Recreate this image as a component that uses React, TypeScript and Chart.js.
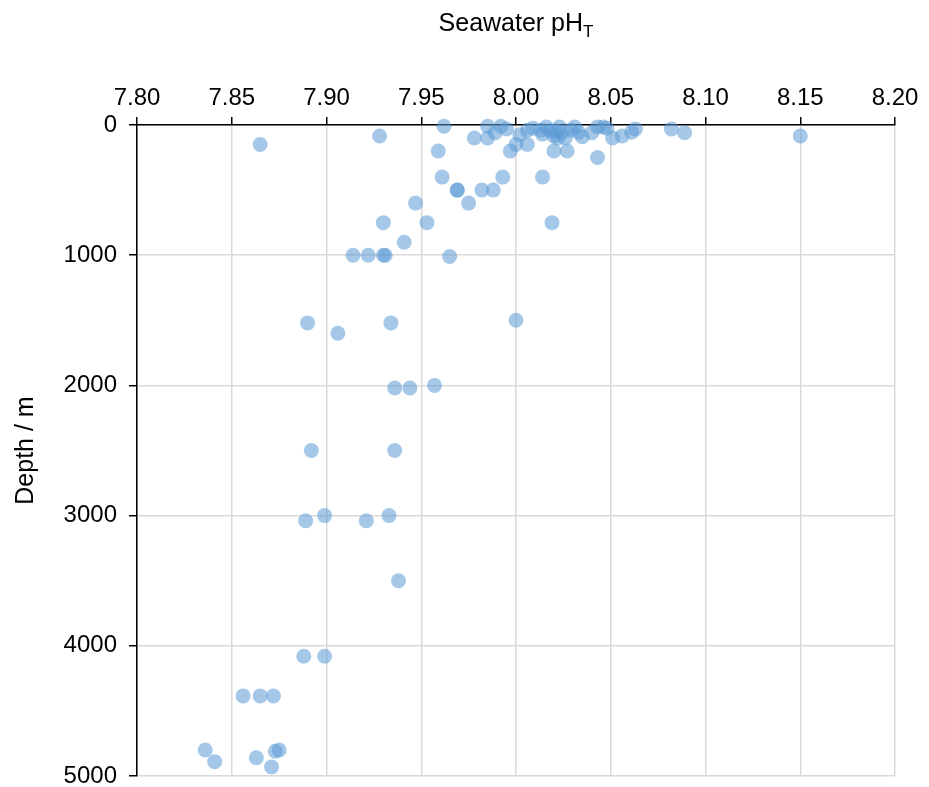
import React, { useEffect, useRef } from "react";
import { Chart, registerables } from "chart.js";

Chart.register(...registerables);

// Seawater pH (total scale) samples and their depths in metres
const phValues: number[] = [
  7.962, 7.985, 7.992, 7.995, 7.978, 7.985, 7.989, 7.959, 8.002, 8.0,
  7.997, 8.006, 8.006, 8.009, 8.013, 8.014, 8.016, 8.018, 8.02, 8.021,
  8.023, 8.024, 8.02, 8.027, 8.022, 8.026, 8.029, 8.031, 8.035, 8.033,
  8.04, 8.043, 8.046, 8.048, 8.051, 8.056, 8.061, 8.063, 8.043, 8.082,
  8.089, 8.15, 7.865, 7.928, 7.961, 7.969, 7.969, 7.975, 7.982, 7.988,
  7.993, 8.014, 8.019, 7.947, 7.953, 7.93, 7.941, 7.914, 7.922, 7.93,
  7.931, 7.965, 7.89, 7.906, 7.934, 8.0, 7.936, 7.944, 7.957, 7.892,
  7.936, 7.899, 7.933, 7.889, 7.921, 7.938, 7.888, 7.899, 7.856, 7.865,
  7.872, 7.836, 7.841, 7.863, 7.873, 7.875, 7.871,
];

const depthValues: number[] = [
  10, 10, 10, 30, 100, 100, 60, 200, 75, 150,
  200, 150, 40, 25, 40, 70, 15, 45, 85, 45,
  15, 60, 200, 200, 100, 100, 40, 15, 90, 55,
  60, 15, 15, 25, 100, 85, 55, 30, 250, 30,
  60, 85, 150, 85, 400, 500, 500, 600, 500, 500,
  400, 400, 750, 600, 750, 750, 900, 1000, 1000, 1000,
  1000, 1010, 1520, 1600, 1520, 1500, 2020, 2020, 2000, 2500,
  2500, 3000, 3000, 3040, 3040, 3500, 4080, 4080, 4385, 4385,
  4385, 4800, 4890, 4860, 4810, 4800, 4930,
];

const xTickValues: number[] = [7.8, 7.85, 7.9, 7.95, 8.0, 8.05, 8.1, 8.15, 8.2];
const yTickValues: number[] = [0, 1000, 2000, 3000, 4000, 5000];

const FONT = '"Liberation Sans", Arial, sans-serif';

// Axis titles: "Seawater pH" with subscript T on top, rotated depth label on the left
const axisTitles = {
  id: "axisTitles",
  afterDraw(chart: Chart) {
    const { ctx, chartArea } = chart;
    ctx.save();
    ctx.fillStyle = "#000";
    ctx.textBaseline = "alphabetic";

    const main = "Seawater pH";
    const sub = "T";
    ctx.font = `25px ${FONT}`;
    const wMain = ctx.measureText(main).width;
    ctx.font = `17px ${FONT}`;
    const wSub = ctx.measureText(sub).width;
    const cx = (chartArea.left + chartArea.right) / 2;
    const x0 = cx - (wMain + wSub) / 2;
    ctx.textAlign = "left";
    ctx.font = `25px ${FONT}`;
    ctx.fillText(main, x0, 31);
    ctx.font = `17px ${FONT}`;
    ctx.fillText(sub, x0 + wMain, 37);

    ctx.font = `25px ${FONT}`;
    ctx.textAlign = "center";
    ctx.translate(33, (chartArea.top + chartArea.bottom) / 2);
    ctx.rotate(-Math.PI / 2);
    ctx.fillText("Depth / m", 0, 0);
    ctx.restore();
  },
};

export default function App() {
  const canvasRef = useRef<HTMLCanvasElement>(null);

  useEffect(() => {
    const canvas = canvasRef.current;
    if (!canvas) return;
    const points = phValues.map((x, i) => ({ x, y: depthValues[i] }));

    const chart = new Chart(canvas, {
      type: "scatter",
      data: {
        datasets: [
          {
            data: points,
            clip: false,
            pointRadius: 7.5,
            pointHoverRadius: 7.5,
            pointBorderWidth: 0,
            pointBackgroundColor: "rgba(91,155,213,0.55)",
            pointBorderColor: "rgba(0,0,0,0)",
          },
        ],
      },
      options: {
        animation: false,
        responsive: true,
        maintainAspectRatio: false,
        layout: { padding: { left: 0, top: 0, right: 34, bottom: 11 } },
        plugins: {
          legend: { display: false },
          tooltip: { enabled: false },
        },
        scales: {
          x: {
            type: "linear",
            position: "top",
            min: 7.8,
            max: 8.2,
            afterBuildTicks(scale: any) {
              scale.ticks = xTickValues.map((value) => ({ value }));
            },
            afterFit(scale: any) {
              scale.height = 125;
              scale.paddingLeft = 0;
              scale.paddingRight = 0;
            },
            ticks: {
              color: "#000",
              font: { family: FONT, size: 24 },
              padding: 4,
              maxRotation: 0,
              autoSkip: false,
              callback: (v: any) => Number(v).toFixed(2),
            },
            grid: {
              color: "#d9d9d9",
              lineWidth: 1.5,
              tickColor: "#000",
              tickLength: 8,
              tickWidth: 1.5,
            },
            border: { color: "#000", width: 1.5 },
          },
          y: {
            type: "linear",
            reverse: true,
            min: 0,
            max: 5000,
            afterBuildTicks(scale: any) {
              scale.ticks = yTickValues.map((value) => ({ value }));
            },
            afterFit(scale: any) {
              scale.width = 137;
              scale.paddingTop = 0;
              scale.paddingBottom = 0;
            },
            ticks: {
              color: "#000",
              font: { family: FONT, size: 24 },
              padding: 12,
              autoSkip: false,
              callback: (v: any) => String(v),
            },
            grid: {
              color: "#d9d9d9",
              lineWidth: 1.5,
              tickColor: "#000",
              tickLength: 8,
              tickWidth: 1.5,
            },
            border: { color: "#000", width: 1.5 },
          },
        },
      },
      plugins: [axisTitles],
    });

    return () => chart.destroy();
  }, []);

  return (
    <div
      style={{
        position: "absolute",
        left: 0,
        top: 0,
        width: 929,
        height: 787,
        background: "#fff",
      }}
    >
      <canvas ref={canvasRef} />
    </div>
  );
}
